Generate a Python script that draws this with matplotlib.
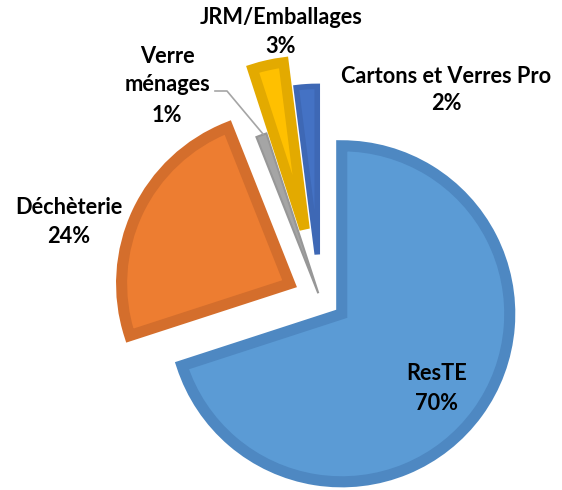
import matplotlib
matplotlib.use("Agg")
import matplotlib.pyplot as plt

labels = ["ResTE", "Déchèterie", "Verre\nménages", "JRM/Emballages", "Cartons et Verres Pro"]
values = [70, 24, 1, 3, 2]
explode = [0.16, 0.20, 0.03, 0.42, 0.26]
fills = ["#5B9BD5", "#ED7D31", "#A5A5A5", "#FFC000", "#4472C4"]
edges = ["#4E88C2", "#D46E2C", "#979797", "#E3AA00", "#3E68B5"]
lws = [8.0, 8.0, 1.5, 7.5, 4.0]

W, H = 562, 490
fig = plt.figure(figsize=(W / 100, H / 100), dpi=100)
ax = fig.add_axes([0, 0, 1, 1])

cx, cy, R = 320, H - 298, 168
wedges, _ = ax.pie(values, explode=[e * R for e in explode], colors=fills, startangle=90,
                   counterclock=False, radius=R, center=(cx, cy))
for w, ec, lw in zip(wedges, edges, lws):
    w.set_edgecolor(ec)
    w.set_linewidth(lw)
    w.set_joinstyle("miter")

ax.set_xlim(0, W)
ax.set_ylim(0, H)
ax.set_aspect("equal")
ax.axis("off")

font = dict(family=["Lato", "DejaVu Sans"], fontweight="bold", fontsize=15.7, color="#000000",
            ha="center", va="center")
# label positions in pixel coords (x, y from top)
lab_pos = [(437, 373, 403), (69, 207, 237), (167, None, 115), (281, 18, 47), (446, 77, 104)]
for lab, v, (x, y1, y2) in zip(labels, values, lab_pos):
    if "\n" in lab:
        l1, l2 = lab.split("\n")
        ax.text(x, H - 57, l1, **font)
        ax.text(x, H - 85, l2, **font)
    else:
        ax.text(x, H - y1, lab, **font)
    ax.text(x, H - y2, f"{v}%", **font)

# leader line for Verre ménages
ax.plot([215, 227, 263], [H - 91, H - 91, H - 134], color="#A5A5A5", lw=1.2)

fig.savefig("out.png", dpi=100)
